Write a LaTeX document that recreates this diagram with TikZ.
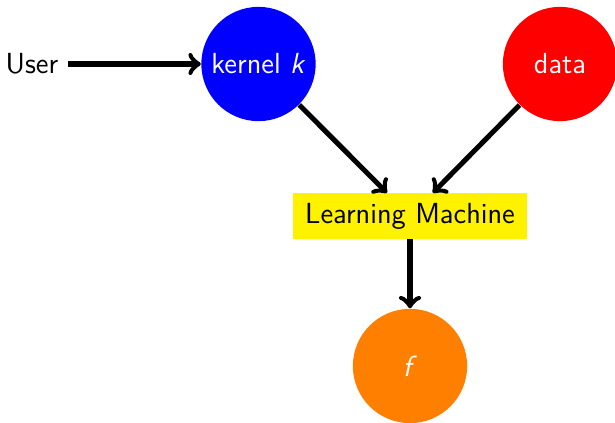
\documentclass[tikz,border=0pt]{standalone}
\usepackage{tikz}
\begin{document}
\begin{tikzpicture}[x=1.33cm, y=1.33cm,
    every node/.style={font=\sffamily\fontsize{11}{13}\selectfont},
    blob/.style={circle, minimum size=1.52cm, inner sep=0pt, text=white},
    link/.style={->, line width=1.9pt}]
  \useasboundingbox (-4.10,-2.06) rectangle (2.05,2.16);
  \node[blob, fill=blue] (kernel) at (-1.515,1.52) {kernel \textit{k}};
  \node[blob, fill=red] (data) at (1.5,1.52) {data};
  \node[fill=yellow, inner xsep=4.5pt, inner ysep=3.6pt] (machine) at (0,0) {Learning Machine};
  \node[blob, fill=orange] (f) at (0,-1.5) {\textit{f}};
  \node (user) at (-3.78,1.52) {User};
  \draw[link] (user) -- (kernel);
  \draw[link] (kernel) -- (machine);
  \draw[link] (data) -- (machine);
  \draw[link] (machine) -- (f);
\end{tikzpicture}
\end{document}
